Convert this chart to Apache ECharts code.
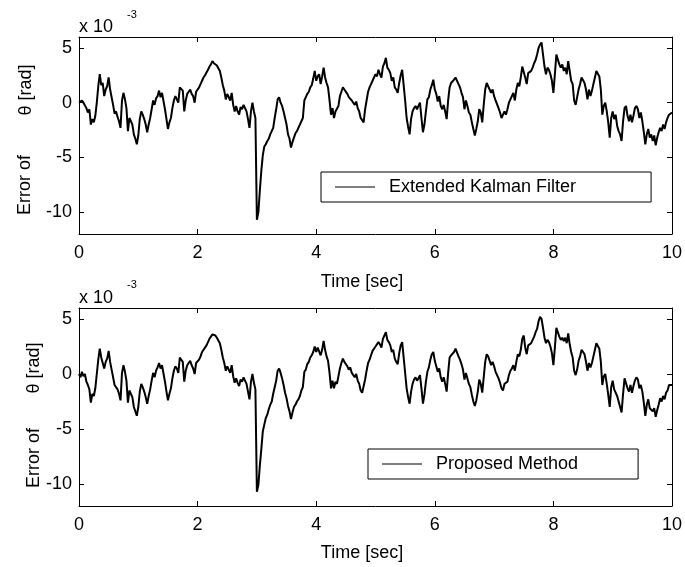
<!DOCTYPE html>
<html>
<head>
<meta charset="utf-8">
<title>Error of theta</title>
<script src="https://cdn.jsdelivr.net/npm/echarts@6/dist/echarts.min.js"></script>
<style>
  html, body { margin: 0; padding: 0; background: #fff; }
  #chart { width: 685px; height: 567px; }
</style>
</head>
<body>
<div id="chart"></div>
<script>
// samples every 0.025 sec, 0 .. 10 sec (values x 10^-3 rad)
const sampleStep = 0.025;
const yTicks = [-10, -5, 0, 5];

const ekfError = [
  0.0, 0.1, 0.2, 0.0, 0.1, -0.5, -0.9, -0.6, -2.0, -1.5,
  -1.8, -1.2, 0.0, 1.5, 2.6, 1.6, 1.8, 0.6, 1.2, 1.5,
  2.3, 1.2, 0.5, -0.2, -1.0, -0.8, -1.3, -1.7, -2.3, 0.2,
  0.9, 0.3, -0.5, -2.6, -1.4, -1.7, -2.0, -2.9, -3.3, -3.8,
  -3.0, -1.5, -0.8, -1.1, -1.5, -2.0, -2.7, -2.0, -1.4, -0.6,
  0.2, -0.2, 0.4, 0.6, 1.1, 0.5, 0.9, 0.8, -0.6, -1.5,
  -2.4, -1.8, -1.4, -0.5, 0.2, 0.6, 0.5, 0.0, 1.4, 1.3,
  1.1, -0.8, 0.2, 0.8, 1.0, 1.2, 0.8, 0.6, 0.0, 1.0,
  1.0, 1.4, 1.7, 2.0, 2.3, 2.5, 2.6, 3.0, 3.3, 3.5,
  3.8, 3.6, 3.6, 3.4, 3.3, 2.9, 2.3, 1.6, 1.1, 0.3,
  0.8, 0.8, 0.2, 0.9, -0.2, -0.8, -0.3, -0.8, -1.1, -0.4,
  -0.6, -0.2, -0.5, -0.8, -1.5, -2.3, -0.8, 0.0, -0.8, -1.4,
  -10.7, -10.0, -8.0, -6.2, -4.8, -4.0, -3.8, -3.5, -3.3, -2.9,
  -2.6, -2.3, -1.4, -0.6, 0.3, 0.5, 0.0, -0.3, -0.8, -1.4,
  -2.0, -2.9, -3.3, -4.1, -3.6, -3.2, -2.8, -2.6, -2.3, -2.0,
  -1.7, -1.4, 0.2, 0.3, 0.8, 1.0, 1.4, 1.6, 2.2, 2.9,
  2.0, 2.4, 2.6, 1.7, 2.4, 3.2, 2.3, 1.8, 1.4, 0.2,
  -1.1, -0.5, -1.4, -0.8, -0.8, -0.3, 0.6, 1.0, 1.4, 1.2,
  1.2, 0.8, 0.5, 0.6, 0.2, 0.3, -0.2, 0.1, -0.5, -0.8,
  -1.4, -1.6, -1.8, -0.6, 0.2, 1.0, 1.4, 1.7, 2.0, 2.3,
  2.6, 2.4, 3.0, 2.6, 2.3, 3.3, 3.6, 4.1, 3.2, 3.0,
  2.7, 2.0, 2.3, 1.4, 1.2, 0.9, 1.8, 2.5, 3.0, 1.6,
  0.2, -1.4, -2.2, -2.9, -1.5, -0.8, -0.5, -0.3, -0.6, -0.3,
  0.0, -1.4, -2.7, -2.0, -0.8, 0.3, 0.5, 1.2, 1.6, 2.1,
  1.2, 0.8, 0.1, 0.6, -0.3, -0.6, -0.2, -0.8, -1.5, 0.2,
  1.4, 1.8, 1.7, 2.1, 2.3, 2.4, 1.7, 1.4, 0.9, 0.5,
  -0.6, 0.2, -0.3, -0.9, -1.1, -1.8, -2.4, -3.0, -2.4, -1.7,
  -0.6, -0.9, -1.8, -0.2, 1.2, 1.8, 1.7, 1.2, 0.9, 1.2,
  0.6, 0.2, 0.3, -0.5, -0.9, -1.4, -1.5, -0.8, -1.1, -0.6,
  0.0, 0.3, 0.6, 0.9, 0.2, 1.2, 1.8, 1.5, 2.3, 3.3,
  3.2, 2.3, 1.7, 2.7, 2.6, 2.9, 3.2, 3.6, 3.9, 4.4,
  5.0, 5.3, 5.5, 4.4, 3.3, 2.6, 3.2, 3.0, 2.6, 2.0,
  0.9, 2.6, 4.4, 4.5, 3.5, 3.2, 3.5, 2.9, 3.2, 2.6,
  3.8, 2.9, 2.0, 1.7, 0.2, -0.2, 0.5, 1.2, 1.7, 2.3,
  2.4, 1.8, 1.2, 0.3, 1.2, 0.6, 1.1, 1.7, 2.3, 2.9,
  3.0, 2.4, 1.2, -1.1, -0.3, 0.0, -0.8, -1.8, -3.2, -1.4,
  -0.8, -1.5, -1.1, -2.1, -2.6, -2.9, -3.5, -1.7, -0.5, -0.3,
  -1.2, -1.7, -1.1, -1.8, -1.2, -0.5, -0.3, -0.6, -1.4, -0.9,
  -1.7, -2.7, -3.8, -2.9, -2.4, -3.2, -2.9, -3.5, -3.0, -3.9,
  -3.2, -2.7, -2.3, -2.6, -2.0, -2.4, -1.8, -1.4, -1.1, -1.2, -0.9
];

const proposedError = [
  0.0, -0.3, 0.2, -0.2, 0.0, -0.7, -1.0, -1.4, -2.6, -1.8,
  -2.0, -1.3, 0.0, 1.3, 2.3, 1.5, 1.6, 0.5, 1.1, 1.4,
  2.1, 1.1, 0.4, -0.3, -1.0, -0.9, -1.4, -1.8, -2.4, 0.1,
  0.8, 0.2, -0.6, -2.6, -1.5, -1.8, -2.1, -3.0, -3.4, -3.8,
  -3.0, -1.6, -0.9, -1.2, -1.6, -2.1, -2.7, -2.0, -1.4, -0.6,
  0.1, -0.3, 0.3, 0.6, 1.0, 0.5, 0.8, 0.7, -0.7, -1.6,
  -2.4, -1.8, -1.3, -0.4, 0.3, 0.7, 0.5, 0.1, 1.5, 1.3,
  1.1, -0.7, 0.3, 0.8, 1.0, 1.2, 0.8, 0.5, 0.0, 1.0,
  1.0, 1.3, 1.6, 2.0, 2.1, 2.4, 2.6, 2.9, 3.2, 3.4,
  3.6, 3.5, 3.5, 3.3, 3.2, 2.8, 2.2, 1.5, 1.0, 0.3,
  0.7, 0.8, 0.1, 0.8, -0.2, -0.8, -0.4, -0.8, -1.1, -0.5,
  -0.7, -0.3, -0.6, -0.9, -1.6, -2.3, -0.7, 0.0, -0.8, -1.4,
  -10.7, -10.1, -8.3, -6.8, -5.2, -4.6, -4.0, -3.7, -3.2, -2.8,
  -2.5, -1.8, -1.2, -0.6, 0.3, 0.5, 0.1, -0.4, -1.0, -1.7,
  -2.2, -2.9, -3.4, -4.1, -3.5, -3.0, -2.8, -2.5, -2.3, -2.0,
  -1.5, -1.2, 0.2, 0.4, 0.9, 1.1, 1.5, 1.7, 2.0, 2.5,
  2.0, 2.4, 2.5, 1.7, 2.2, 3.0, 2.2, 1.6, 1.2, 0.1,
  -1.3, -0.6, -1.3, -0.7, -0.9, -0.2, 0.5, 1.0, 1.4, 1.1,
  1.1, 0.7, 0.4, 0.6, 0.1, 0.2, -0.3, 0.0, -0.6, -0.9,
  -1.5, -1.7, -1.8, -0.5, 0.3, 1.0, 1.3, 1.7, 2.1, 2.3,
  2.5, 2.5, 2.9, 2.7, 2.4, 3.2, 3.5, 3.8, 3.1, 2.9,
  2.6, 2.0, 2.2, 1.4, 1.1, 0.9, 1.9, 2.6, 2.9, 1.5,
  0.1, -1.3, -2.1, -2.7, -1.6, -0.9, -0.5, -0.3, -0.6, -0.4,
  -0.1, -1.3, -2.7, -1.9, -0.7, 0.2, 0.6, 1.3, 1.8, 2.0,
  1.2, 0.7, 0.2, 0.5, -0.3, -0.7, -0.3, -0.9, -1.6, 0.1,
  1.5, 1.7, 1.8, 2.0, 2.3, 2.3, 1.6, 1.3, 0.9, 0.4,
  -0.5, 0.1, -0.4, -0.9, -1.2, -1.9, -2.5, -2.9, -2.4, -1.6,
  -0.5, -0.9, -1.7, -0.3, 1.1, 1.8, 1.6, 1.2, 0.8, 1.1,
  0.7, 0.2, 0.2, -0.4, -0.8, -1.3, -1.5, -0.9, -1.0, -0.7,
  -0.1, 0.3, 0.5, 0.8, 0.3, 1.1, 1.8, 1.6, 2.2, 3.2,
  3.5, 2.4, 1.8, 2.6, 2.5, 2.8, 3.1, 3.4, 3.8, 4.1,
  4.8, 5.2, 5.0, 4.2, 3.3, 2.8, 3.1, 2.9, 2.5, 1.9,
  0.8, 2.4, 4.2, 4.1, 3.4, 3.1, 3.3, 3.0, 3.3, 2.8,
  3.7, 2.7, 2.0, 1.5, 0.3, -0.1, 0.4, 1.2, 1.6, 2.2,
  2.3, 1.8, 1.1, 0.3, 1.0, 0.6, 1.0, 1.6, 2.2, 2.8,
  2.9, 2.3, 1.1, -1.0, -0.2, 0.0, -0.9, -1.9, -3.0, -1.2,
  -0.6, -1.4, -1.3, -2.0, -2.5, -3.0, -3.5, -1.8, -0.4, -0.4,
  -1.3, -1.6, -1.0, -1.7, -1.1, -0.6, -0.3, -0.5, -1.3, -1.0,
  -1.6, -2.6, -3.8, -2.8, -2.3, -3.1, -3.0, -3.4, -3.1, -3.9,
  -3.3, -2.8, -2.2, -2.5, -2.0, -2.3, -1.7, -1.5, -1.0, -1.1, -1.0
];

const FONT = "Liberation Sans, Arial, sans-serif";

function toPairs(values) {
  return values.map((v, i) => [+(i * sampleStep).toFixed(3), v]);
}

function xAxisAt(gi, pos) {
  return {
    gridIndex: gi, type: "value", position: pos, min: 0, max: 10, interval: 2,
    axisLine: { onZero: false, lineStyle: { color: "#000", width: 1 } },
    axisTick: { inside: true, length: 5, lineStyle: { color: "#000" } },
    axisLabel: pos === "bottom"
      ? { color: "#000", fontSize: 18, fontFamily: FONT, margin: 10 }
      : { show: false },
    splitLine: { show: false }
  };
}
function yAxisAt(gi, pos) {
  return {
    gridIndex: gi, type: "value", position: pos, min: -12, max: 6,
    axisLine: { show: true, onZero: false, lineStyle: { color: "#000", width: 1 } },
    axisTick: { show: true, inside: true, length: 5, customValues: yTicks, lineStyle: { color: "#000" } },
    axisLabel: pos === "left"
      ? { color: "#000", fontSize: 18, fontFamily: FONT, margin: 7, customValues: yTicks }
      : { show: false },
    splitLine: { show: false }
  };
}
function legendBox(name, left, top, rightPad) {
  return {
    data: [name], left: left, top: top, orient: "horizontal",
    padding: [6, rightPad, 6, 14],
    borderColor: "#000", borderWidth: 1, backgroundColor: "#fff",
    icon: "rect", itemWidth: 40, itemHeight: 1,
    selectedMode: false,
    textStyle: { color: "#000", fontSize: 18, fontFamily: FONT, lineHeight: 18, padding: [0, 0, 0, 9] }
  };
}
function label(text, x, y, size) {
  return {
    type: "text", x: x, y: y,
    style: { text: text, fill: "#000", font: size + "px " + FONT, align: "left", verticalAlign: "middle" }
  };
}
function vlabel(text, x, y) {
  return {
    type: "text", x: x, y: y, rotation: Math.PI / 2,
    style: { text: text, fill: "#000", font: "18px " + FONT, align: "center", verticalAlign: "middle" }
  };
}

const chart = echarts.init(document.getElementById("chart"));
chart.setOption({
  animation: false,
  backgroundColor: "#fff",
  color: ["#000"],
  grid: [
    { left: 79, top: 37, width: 596, height: 197 },
    { left: 79, top: 308, width: 596, height: 198 }
  ],
  xAxis: [xAxisAt(0, "bottom"), xAxisAt(0, "top"), xAxisAt(1, "bottom"), xAxisAt(1, "top")],
  yAxis: [yAxisAt(0, "left"), yAxisAt(0, "right"), yAxisAt(1, "left"), yAxisAt(1, "right")],
  legend: [
    legendBox("Extended Kalman Filter", 321, 172, 75),
    legendBox("Proposed Method", 368, 449, 60)
  ],
  series: [
    {
      name: "Extended Kalman Filter", type: "line", xAxisIndex: 0, yAxisIndex: 0,
      data: toPairs(ekfError), symbol: "none", lineStyle: { color: "#000", width: 2 }
    },
    {
      name: "Proposed Method", type: "line", xAxisIndex: 2, yAxisIndex: 2,
      data: toPairs(proposedError), symbol: "none", lineStyle: { color: "#000", width: 2 }
    }
  ],
  graphic: [
    label("x 10", 79, 27, 18),
    label("-3", 127, 15, 11),
    label("x 10", 79, 298, 18),
    label("-3", 127, 285, 11),
    { type: "text", x: 362, y: 282, style: { text: "Time [sec]", fill: "#000", font: "18px " + FONT, align: "center", verticalAlign: "middle" } },
    { type: "text", x: 362, y: 553, style: { text: "Time [sec]", fill: "#000", font: "18px " + FONT, align: "center", verticalAlign: "middle" } },
    vlabel("Error of", 25, 185),
    vlabel("\u03b8 [rad]", 26, 90),
    vlabel("Error of", 34, 458),
    vlabel("\u03b8 [rad]", 34, 368)
  ]
});
</script>
</body>
</html>
